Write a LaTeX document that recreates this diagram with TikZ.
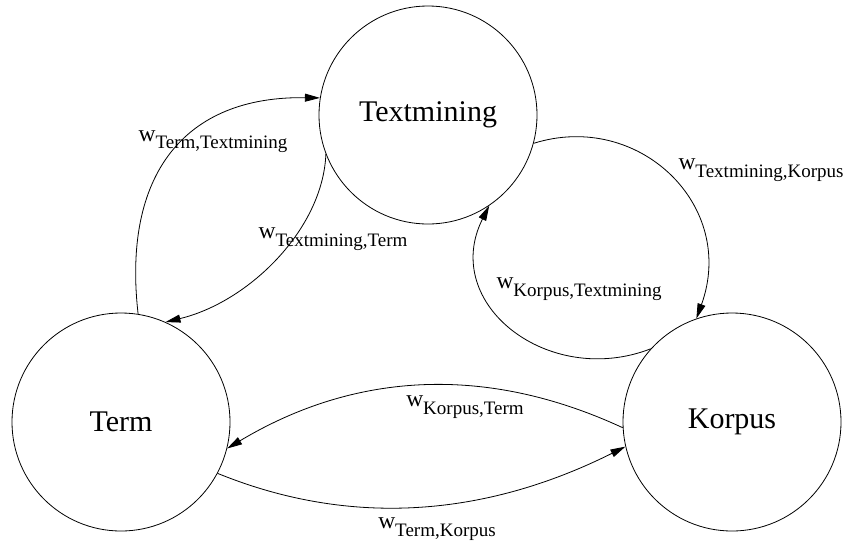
\documentclass[tikz,border=0pt]{standalone}
\usepackage{fontspec}
\setmainfont{LiberationSerif}[Extension=.ttf, UprightFont=*-Regular, BoldFont=*-Bold, ItalicFont=*-Italic]
\usetikzlibrary{arrows.meta}

% weight label: large w with a lowered subscript
\newcommand{\weightlabel}[1]{{\fontsize{23.5}{28}\selectfont w}\raisebox{-7.3pt}{\fontsize{19}{22}\selectfont #1}}

\begin{document}
\begin{tikzpicture}[x=1pt,y=-1pt,
  state/.style={draw, circle, line width=0.8pt, minimum size=218pt, inner sep=0pt,
                font=\fontsize{30}{36}\selectfont},
  flow/.style={draw, line width=0.8pt, -{Triangle[length=15pt,width=8pt]}},
  wlabel/.style={inner sep=0pt}]
\useasboundingbox (0,0) rectangle (843,542);

% states
\node[state] (tm) at (428,115) {Textmining};
\node[state] (term) at (121,422) {Term};
\node[state] (korpus) at (732,422) {Korpus};

% transitions
\draw[flow] (term.81) .. controls +(-16,-140) and +(-135,-2) .. (tm.171);
\draw[flow] (tm.201) .. controls +(-3,75) and +(83.3,-20) .. (term.66);
\draw[flow] (tm.-15) .. controls +(105,-33) and +(41,-113) .. (korpus.109);
\draw[flow] (korpus.138) .. controls +(-102.3,39.6) and +(-49.2,98) .. (tm.-56);
\draw[flow] (korpus.183.6) .. controls +(-136,-63) and +(128.6,-77) .. (term.-14.4);
\draw[flow] (term.-28.6) .. controls +(139,56.6) and +(-134,67) .. (korpus.193.4);

% transition weights
\node[wlabel] (lTT) at (213,142) {\weightlabel{Term,Textmining}};
\node[wlabel] (lTmT) at (333,239) {\weightlabel{Textmining,Term}};
\node[wlabel] (lTmK) at (761,170) {\weightlabel{Textmining,Korpus}};
\node[wlabel] (lKTm) at (579,289) {\weightlabel{Korpus,Textmining}};
\node[wlabel] (lKT) at (465,407) {\weightlabel{Korpus,Term}};
\node[wlabel] (lTK) at (437,529) {\weightlabel{Term,Korpus}};
\end{tikzpicture}
\end{document}
